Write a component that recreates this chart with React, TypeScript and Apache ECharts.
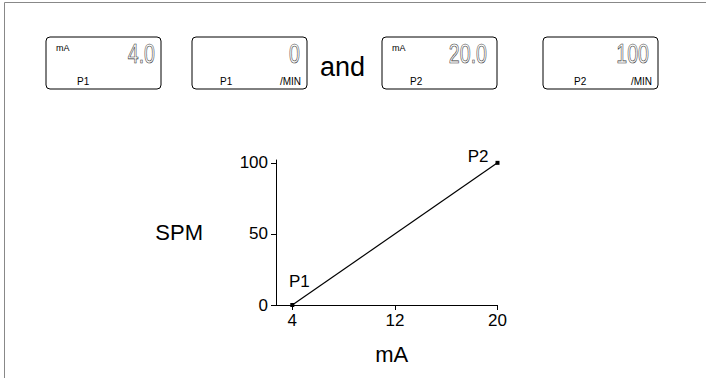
import React, { useEffect, useRef } from "react";
import * as echarts from "echarts";

// Data
const pointNames = ["P1", "P2"];
const mAValues = [4, 20];
const spmValues = [0, 100];
const xTicks = [4, 12, 20];
const yTicks = [0, 50, 100];
const xAxisName = "mA";
const yAxisName = "SPM";
const joinWord = "and";
const rateUnit = "/MIN";

const FONT = "'Liberation Sans', Arial, Helvetica, sans-serif";

function lcd(x: number, y: number, pName: string, value: string, showMA: boolean, showMin: boolean, digitPad: number, nameOff: number): any[] {
  const w = 115;
  const h = 52;
  const els: any[] = [
    {
      type: "rect",
      shape: { x, y, width: w, height: h, r: 4 },
      style: { fill: "#fff", stroke: "#000", lineWidth: 1 },
    },
    {
      type: "text",
      x: x + nameOff,
      y: y + 44,
      style: { text: pName, font: `10px ${FONT}`, fill: "#000", align: "left", verticalAlign: "middle" },
    },
    {
      type: "text",
      x: x + w - digitPad,
      y: y + 16,
      scaleX: 0.7,
      style: {
        text: value,
        font: `28px ${FONT}`,
        fill: "none",
        stroke: "#333",
        lineWidth: 0.7,
        align: "right",
        verticalAlign: "middle",
      },
    },
  ];
  if (showMA) {
    els.push({
      type: "text",
      x: x + 10,
      y: y + 11,
      style: { text: "mA", font: `9px ${FONT}`, fill: "#000", align: "left", verticalAlign: "middle" },
    });
  }
  if (showMin) {
    els.push({
      type: "text",
      x: x + w - 6,
      y: y + 44,
      style: { text: rateUnit, font: `10px ${FONT}`, fill: "#000", align: "right", verticalAlign: "middle" },
    });
  }
  return els;
}

export default function App() {
  const ref = useRef<HTMLDivElement>(null);
  useEffect(() => {
    document.body.style.margin = "0";
    if (!ref.current) return;
    const chart = echarts.init(ref.current, undefined, { renderer: "svg" });

    const data = mAValues.map((v, i) => ({
      value: [v, spmValues[i]],
      name: pointNames[i],
      label:
        i === 0
          ? { show: true, position: "top", distance: 5, offset: [7, -8] }
          : { show: true, position: "left", distance: 5, offset: [-2, -6] },
    }));

    const graphics: any[] = [
      {
        type: "rect",
        shape: { x: 4.5, y: 2.5, width: 720, height: 400 },
        style: { fill: "none", stroke: "#888", lineWidth: 1 },
        silent: true,
      },
      ...lcd(46, 37, pointNames[0], mAValues[0].toFixed(1), true, false, 6, 31),
      ...lcd(192, 37, pointNames[0], String(spmValues[0]), false, true, 7, 28),
      {
        type: "text",
        x: 320,
        y: 67,
        style: { text: joinWord, font: `27px ${FONT}`, fill: "#000", align: "left", verticalAlign: "middle" },
      },
      ...lcd(382, 37, pointNames[1], mAValues[1].toFixed(1), true, false, 10, 28),
      ...lcd(543, 37, pointNames[1], String(spmValues[1]), false, true, 9, 31),
    ];

    chart.setOption({
      animation: false,
      textStyle: { fontFamily: FONT },
      grid: { left: 276, top: 160, right: 208.5, bottom: 73 },
      xAxis: {
        type: "value",
        min: 2.73,
        max: 20,
        name: xAxisName,
        nameLocation: "middle",
        nameGap: 38,
        nameTextStyle: { fontSize: 22, color: "#000", padding: [0, 0, 0, 10], fontFamily: FONT },
        axisLine: { show: true, onZero: false, lineStyle: { color: "#000", width: 1 } },
        axisTick: { show: true, customValues: xTicks, length: 5, lineStyle: { color: "#000" } },
        axisLabel: { customValues: xTicks, fontSize: 17, color: "#000", margin: 7, fontFamily: FONT },
        splitLine: { show: false },
      },
      yAxis: {
        type: "value",
        min: 0,
        max: 102,
        name: yAxisName,
        nameLocation: "middle",
        nameRotate: 0,
        nameGap: 73,
        nameTextStyle: { fontSize: 22, color: "#000", padding: [0, 0, 20, 0], fontFamily: FONT },
        axisLine: { show: true, lineStyle: { color: "#000", width: 1 } },
        axisTick: { show: true, customValues: yTicks, length: 5, lineStyle: { color: "#000" } },
        axisLabel: { customValues: yTicks, fontSize: 17, color: "#000", margin: 8, fontFamily: FONT },
        splitLine: { show: false },
      },
      series: [
        {
          type: "line",
          data,
          clip: false,
          symbol: "rect",
          symbolSize: 4,
          showSymbol: true,
          itemStyle: { color: "#000" },
          lineStyle: { color: "#000", width: 1.2 },
          label: { formatter: "{b}", fontSize: 17, color: "#000", fontFamily: FONT },
        },
      ],
      graphic: graphics,
    });
    return () => chart.dispose();
  }, []);
  return <div ref={ref} style={{ width: 706, height: 378 }} />;
}
